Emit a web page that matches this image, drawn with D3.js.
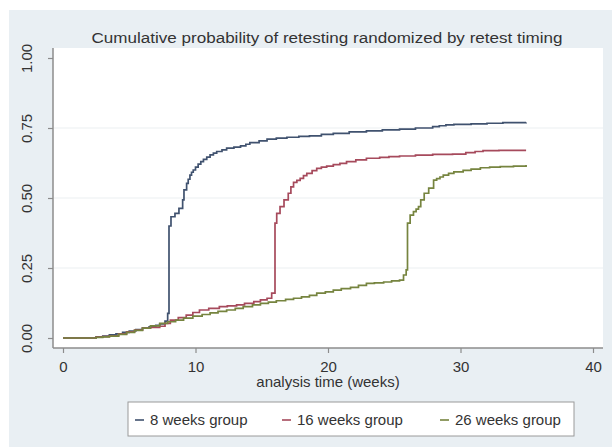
<!DOCTYPE html>
<html>
<head>
<meta charset="utf-8">
<script src="https://cdnjs.cloudflare.com/ajax/libs/d3/7.8.5/d3.min.js"></script>
<style>
  body { margin: 0; background: #fff; }
  text { font-family: "Liberation Sans", Arial, sans-serif; fill: #333; }
</style>
</head>
<body>
<div id="chart"></div>
<script>
// values (weeks, cumulative probability)
var weeks8_t = [0,1.5,2.5,3.0,3.5,4.0,4.5,5.0,5.5,6.0,6.5,7.0,7.3,7.7,7.9,8.0,8.0,8.15,8.45,8.75,9.03,9.13,9.33,9.45,9.58,9.7,9.83,10.0,10.2,10.4,10.6,10.85,11.1,11.35,11.6,12.0,12.35,12.9,13.4,13.8,14.1,14.8,15.4,16.1,16.9,17.8,18.6,19.5,20.4,21.6,22.9,24.1,25.4,26.6,27.9,28.4,28.9,29.5,30.8,32,33.2,34.95];
var weeks8_p = [0,0,0.004,0.007,0.011,0.015,0.02,0.025,0.03,0.035,0.04,0.045,0.05,0.06,0.088,0.106,0.40,0.433,0.445,0.463,0.493,0.529,0.552,0.567,0.582,0.592,0.60,0.61,0.621,0.63,0.638,0.646,0.654,0.66,0.666,0.672,0.678,0.682,0.686,0.692,0.698,0.704,0.71,0.714,0.717,0.72,0.722,0.727,0.731,0.736,0.74,0.743,0.746,0.75,0.755,0.758,0.761,0.763,0.765,0.767,0.769,0.77];

var weeks16_t = [0,1.5,2.5,3.0,3.5,4.2,4.8,5.4,6.0,6.6,7.3,7.7,8.1,8.7,9.3,9.8,10.3,11.0,11.8,12.4,13.1,13.7,14.4,14.9,15.4,15.75,16.0,16.0,16.13,16.38,16.68,17.0,17.2,17.4,17.65,17.9,18.15,18.4,18.8,19.15,19.5,19.9,20.4,20.9,21.4,22.1,22.9,23.9,24.6,25.4,26.6,27.9,29.4,30.4,31.1,31.7,32.9,34.95];
var weeks16_p = [0,0,0.003,0.005,0.008,0.015,0.022,0.028,0.035,0.038,0.042,0.052,0.064,0.073,0.082,0.091,0.10,0.106,0.112,0.115,0.118,0.124,0.13,0.136,0.142,0.16,0.171,0.41,0.445,0.469,0.493,0.517,0.54,0.556,0.563,0.57,0.58,0.588,0.598,0.606,0.61,0.614,0.619,0.624,0.63,0.636,0.642,0.645,0.648,0.65,0.653,0.656,0.657,0.662,0.666,0.669,0.67,0.67];

var weeks26_t = [0,1.5,2.5,3.0,3.5,4.2,4.8,5.4,6.0,6.6,7.3,7.9,8.5,9.1,9.8,10.5,11.1,11.7,12.35,13.0,13.6,14.3,14.9,15.5,16.1,16.8,17.4,18.0,18.6,19.15,19.8,20.4,21.0,21.7,22.3,22.9,23.5,24.2,24.8,25.4,25.7,25.9,26.0,26.2,26.45,26.65,26.83,27.0,27.26,27.6,27.97,28.2,28.45,28.7,29.1,29.5,30.2,30.8,31.5,32.2,33.0,34.0,34.95];
var weeks26_p = [0,0,0.002,0.004,0.007,0.013,0.02,0.027,0.035,0.043,0.052,0.058,0.064,0.071,0.078,0.084,0.09,0.095,0.10,0.106,0.112,0.118,0.124,0.128,0.133,0.138,0.142,0.147,0.152,0.16,0.165,0.171,0.176,0.181,0.188,0.195,0.197,0.2,0.204,0.207,0.225,0.243,0.41,0.439,0.451,0.46,0.469,0.493,0.517,0.535,0.564,0.569,0.575,0.582,0.588,0.593,0.599,0.603,0.608,0.61,0.612,0.614,0.618];

var groupNames = ["8 weeks group", "16 weeks group", "26 weeks group"];
var xTicks = [0, 10, 20, 30, 40];
var yTicks = [0, 0.25, 0.5, 0.75, 1];
var yTickLabels = ["0.00", "0.25", "0.50", "0.75", "1.00"];

var width = 612, height = 447;
var colors = ["#40526f", "#a64a5c", "#76843f"];

var svg = d3.select("#chart").append("svg")
    .attr("width", width)
    .attr("height", height);

// stata-ish graph region
svg.append("rect")
    .attr("x", 9).attr("y", 10)
    .attr("width", width - 9).attr("height", height - 10)
    .attr("fill", "#e9eff3");

var plot = {left: 53, right: 603, top: 48, bottom: 348};
svg.append("rect")
    .attr("x", plot.left).attr("y", plot.top)
    .attr("width", plot.right - plot.left).attr("height", plot.bottom - plot.top)
    .attr("fill", "#fff");

var x = d3.scaleLinear().domain([0, 40]).range([63, 593]);
var y = d3.scaleLinear().domain([0, 1]).range([338, 58]);

// grid
svg.append("g").selectAll("line")
    .data(yTicks.filter(function(d) { return d > 0 && d < 1; }))
    .enter().append("line")
    .attr("x1", plot.left + 1).attr("x2", plot.right)
    .attr("y1", function(d) { return y(d); })
    .attr("y2", function(d) { return y(d); })
    .attr("stroke", "#eceff1")
    .attr("stroke-width", 1.2);

// y axis
var yAxis = svg.append("g")
    .attr("transform", "translate(" + plot.left + ",0)")
    .call(d3.axisLeft(y).tickValues(yTicks).tickSize(5)
      .tickFormat(function(d, i) { return yTickLabels[i]; }));
yAxis.select(".domain").attr("d", "M0," + plot.top + "V" + plot.bottom);
yAxis.selectAll("text")
    .attr("transform", "rotate(-90)")
    .attr("x", 0).attr("y", -21)
    .attr("dy", "0")
    .attr("text-anchor", "middle")
    .style("font-size", "15px");

// x axis
var xAxis = svg.append("g")
    .attr("transform", "translate(0," + plot.bottom + ")")
    .call(d3.axisBottom(x).tickValues(xTicks).tickSize(5).tickFormat(d3.format("d")));
xAxis.select(".domain").attr("d", "M" + plot.left + ",0H" + plot.right);
xAxis.selectAll("text")
    .attr("y", 13).attr("dy", "0.71em")
    .style("font-size", "15px");

svg.selectAll(".domain").attr("stroke", "#8c8c8c").attr("stroke-width", 1.5);
svg.selectAll(".tick line").attr("stroke", "#8c8c8c").attr("stroke-width", 1.2);
svg.selectAll(".tick text").attr("fill", "#3a3a3a").style("font-family", "'Liberation Sans', Arial, sans-serif");

// curves
var series = [
  d3.zip(weeks8_t, weeks8_p),
  d3.zip(weeks16_t, weeks16_p),
  d3.zip(weeks26_t, weeks26_p)
];

var line = d3.line()
    .x(function(d) { return x(d[0]); })
    .y(function(d) { return y(d[1]); })
    .curve(d3.curveStepAfter);

svg.append("g").selectAll("path")
    .data(series)
    .enter().append("path")
    .attr("d", line)
    .attr("fill", "none")
    .attr("stroke", function(d, i) { return colors[i]; })
    .attr("stroke-width", 1.7);

// titles
svg.append("text")
    .attr("x", 327).attr("y", 43)
    .attr("text-anchor", "middle")
    .attr("textLength", 471)
    .attr("lengthAdjust", "spacingAndGlyphs")
    .style("font-size", "15.5px")
    .text("Cumulative probability of retesting randomized by retest timing");

svg.append("text")
    .attr("x", x(20)).attr("y", 387)
    .attr("text-anchor", "middle")
    .style("font-size", "15px")
    .text("analysis time (weeks)");

// legend
var legend = svg.append("g");
legend.append("rect")
    .attr("x", 128).attr("y", 402)
    .attr("width", 446).attr("height", 34)
    .attr("fill", "#fff")
    .attr("stroke", "#9a9a9a")
    .attr("stroke-width", 1);

var legendX = [135, 282, 440];
var item = legend.selectAll("g.item")
    .data(groupNames)
    .enter().append("g")
    .attr("class", "item")
    .attr("transform", function(d, i) { return "translate(" + legendX[i] + ",420)"; });

item.append("line")
    .attr("x1", 0).attr("x2", 9)
    .attr("y1", 0).attr("y2", 0)
    .attr("stroke", function(d, i) { return colors[i]; })
    .attr("stroke-width", 1.6);

item.append("text")
    .attr("x", 15).attr("y", 0)
    .attr("dy", "0.36em")
    .style("font-size", "15px")
    .text(function(d) { return d; });
</script>
</body>
</html>
